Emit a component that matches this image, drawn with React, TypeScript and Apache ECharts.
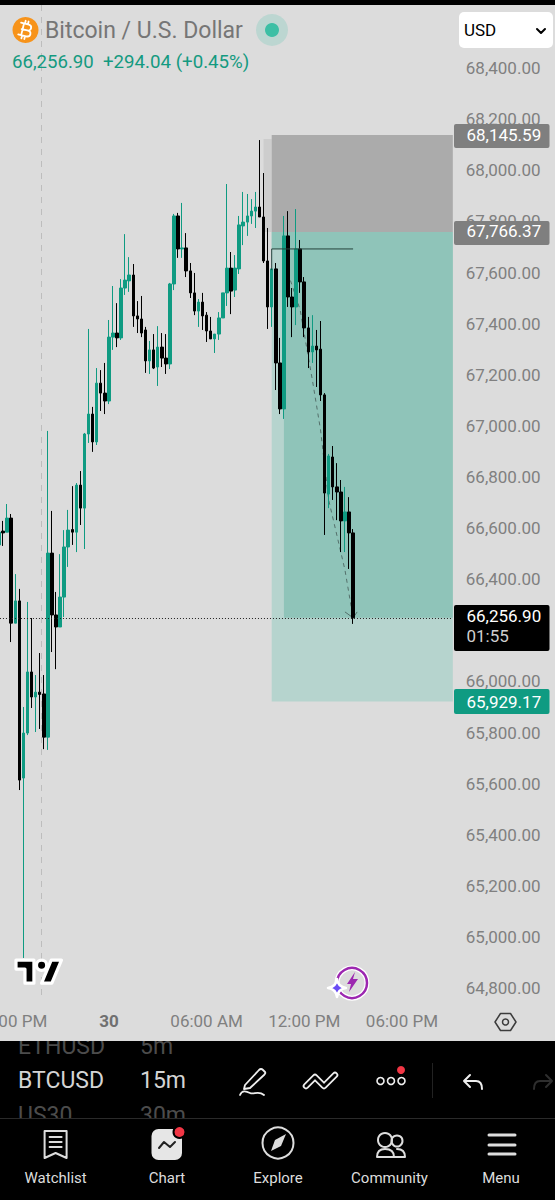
import React, { useEffect, useRef } from "react";
import * as echarts from "echarts";

const SLOT_COUNT = 112;
const tickIndices = [3, 27, 51, 75, 99];
const tickLabels = ["06:00 PM", "30", "06:00 AM", "12:00 PM", "06:00 PM"];

const opens = [66542,66596,66592,66647,66236,66323,65630,65806,66045,65947,65966,65959,65790,66510,66268,66221,66338,66534,66602,66592,66776,66686,66976,67054,66945,67175,67136,67105,67355,67371,67352,67547,67575,67598,67438,67426,67383,67262,67305,67238,67316,67273,67250,67563,67829,67700,67704,67614,67528,67457,67492,67441,67379,67348,67367,67430,67528,67625,67539,67622,67790,67805,67829,67848,67864,67825,67653,67473,67622,67254,67074,67751,67512,67473,67700,67571,67391,67297,67320,67308,67129,66741,66886,66769,66749,66636,66671,66589];
const closes = [66592,66589,66647,66236,66323,65622,65806,66045,65947,65966,65957,65790,66510,66268,66221,66338,66534,66600,66592,66776,66686,66976,67054,66945,67175,67136,67105,67355,67371,67352,67547,67578,67598,67438,67426,67371,67262,67305,67234,67316,67273,67250,67563,67829,67700,67704,67614,67528,67457,67492,67438,67379,67348,67367,67430,67528,67625,67535,67625,67794,67805,67829,67848,67864,67825,67653,67473,67622,67254,67074,67751,67512,67473,67700,67571,67391,67297,67320,67305,67129,66745,66890,66769,66749,66636,66671,66589,66256.9];
const lows = [66495,66538,66592,66162,66236,65583,64926,65798,65904,65810,65822,65743,65740,66123,66056,66221,66260,66456,66542,66514,66620,66526,66941,66906,66933,67066,67054,67093,67305,67316,67344,67520,67532,67395,67371,67355,67215,67211,67230,67164,67238,67211,67230,67539,67665,67665,67590,67508,67441,67395,67383,67336,67348,67293,67344,67430,67477,67445,67512,67602,67715,67751,67798,67782,67825,67645,67387,67395,67148,67054,67035,67473,67355,67402,67528,67355,67234,67254,67160,67105,66581,66686,66718,66639,66514,66514,66448,66233];
const highs = [66600,66636,66702,66663,66428,66370,65908,66319,66256,66033,66119,66033,66988,66675,66358,66506,66600,66679,66772,66784,66831,66980,67387,67082,67234,67226,67254,67422,67555,67488,67582,67758,67668,67641,67496,67516,67395,67340,67367,67398,67371,67367,67567,67837,67841,67880,67762,67645,67606,67504,67528,67453,67434,67367,67453,67528,67954,67688,67676,67829,67923,67915,67895,67923,68126,67997,67782,67622,67645,67352,67829,67848,67547,67856,67735,67590,67434,67441,67383,67418,67136,66898,66929,66862,66796,66769,66729,66604];

const lastPrice = 66256.9;
const stopPrice = 68145.59;
const entryPrice = 67766.37;
const targetPrice = 65929.17;
const entryLinePrice = 67700;
const entryLineFoot = 67617;

const zoneStarts = [65, 67, 67, 67, 70];
const zoneEnds = [67, null, null, null, null];
const zoneTops = [68130, stopPrice, entryPrice, entryPrice, entryLinePrice];
const zoneBottoms = [entryPrice, entryPrice, targetPrice, entryLinePrice, lastPrice];
const zoneFills = ["#cdcdcd", "#ababab", "#b6d4ce", "#8fc4b9", "#8fc4b9"];

const projectionIdx = [71, 74, 76, 77, 79, 81, 85, 87];
const projectionVal = [67606, 67461, 67277, 67187, 66992, 66718, 66444, lastPrice];
const arrowIdx = [85, 87, 88];
const arrowVal = [66280, lastPrice, 66280];
const entryIdx = [67, 67, 87];
const entryVal = [entryLineFoot, entryLinePrice, entryLinePrice];

const shapes: Record<string, string> = {
  btcGlyph: "M-4 -6 H2 C6 -6 6 0 2 0 H-4 M2 0 C7 0 7 6 2 6 H-4 M-3 -6 V6 M-6 -6 H-3 M-6 6 H-3 M-2 -9 V-6 M1 -9 V-6 M-2 6 V9 M1 6 V9",
  chev: "M-4 -2 L0 2 L4 -2",
  tvLogo: "M14 22H7V11H0V4h14v18zM28 22h-8l7.5-18h8L28 22zM24 8C24 13.3 16 13.3 16 8C16 2.7 24 2.7 24 8Z",
  bolt: "M3 -10 L-5 2 H-1 L-3 10 L6 -3 H1 Z",
  star: "M0 -9 Q1 -1 9 0 Q1 1 0 9 Q-1 1 -9 0 Q-1 -1 0 -9 Z",
  hex: "M-5 -8.5 H5 L10.5 0 L5 8.5 H-5 L-10.5 0 Z",
  pen: "M-7 5 L7 -10 Q9 -12 11 -10 L13 -8 Q14 -7 12 -5 L-2 8 L-8 9 Z",
  squiggle: "M-12 15 C-10 10 -6 11 -2 13 C2 15 6 10 12 15",
  zig: "M-15 6 L-6 -3 L3 6 L14 -5",
  undo: "M-9 -1 L-3 -7 M-9 -1 L-3 5 M-9 -1 H3 Q9 -1 9 7",
  redo: "M9 -1 L3 -7 M9 -1 L3 5 M9 -1 H-3 Q-9 -1 -9 7",
  watch: "M-11 -13 H11 V14 L0 9 L-11 14 Z M-6 -7 H6 M-6 -2 H6 M-6 3 H6",
  spark: "M-8 3 L-3 -3 L3 2 L8 -3",
  needle: "M8 -9 L3 3 L-7 8 L-3 -3 Z",
  people: "M-12 14 Q-12 6 -4 6 Q5 6 5 14 Z M8 6 Q16 6 16 14 H5",
  menu: "M-13 -9 H13 M-13 1 H13 M-13 10 H13",
};
Object.keys(shapes).forEach((k) => {
  echarts.graphic.registerShape(k, echarts.graphic.extendPath(shapes[k], {}) as any);
});

const FONT = "Roboto";
const Z = 100;
const txt = (text: string, x: number, y: number, size: number, fill: string, align = "left", weight = "normal") => ({
  type: "text", x, y, z: Z, silent: true,
  style: { text, fill, font: `${weight} ${size}px ${FONT}`, align, verticalAlign: "middle" },
});
const rect = (x: number, y: number, w: number, h: number, fill: string, r = 0) => ({
  type: "rect", z: Z, silent: true, shape: { x, y, width: w, height: h, r }, style: { fill },
});
const ico = (type: string, x: number, y: number, stroke: string | null, lineWidth = 2, fill = "none", extra: any = {}) => ({
  type, x, y, z: Z, silent: true, ...extra,
  style: { stroke: stroke ?? "none", lineWidth, fill, lineJoin: "round", lineCap: "round" },
});
const ring = (x: number, y: number, r: number, stroke: string, lineWidth: number, fill = "none") => ({
  type: "circle", z: Z, silent: true, shape: { cx: x, cy: y, r }, style: { stroke, lineWidth, fill },
});
const dot = (x: number, y: number, r: number, fill: string) => ({
  type: "circle", z: Z, silent: true, shape: { cx: x, cy: y, r }, style: { fill },
});
const NAV = "#dddddd";

const overlay: any[] = [
  { type: "line", z: 0, silent: true, shape: { x1: 41.5, y1: 5, x2: 41.5, y2: 998 }, style: { stroke: "#bdbdbd", lineWidth: 1, lineDash: [6, 6] } },
  rect(0, 0, 555, 5, "#000000"),
  dot(25.5, 30, 13, "#f7931a"),
  ico("btcGlyph", 25.5, 30, "#ffffff", 1.8, "none", { rotation: -0.24 }),
  txt("Bitcoin / U.S. Dollar", 45, 30, 23, "#767676"),
  dot(272, 30, 16, "#bcd6d1"),
  dot(272, 30, 7, "#3dbfa5"),
  txt("66,256.90", 12, 62, 18.6, "#149a80"),
  txt("+294.04 (+0.45%)", 103, 62, 18.7, "#149a80"),
  rect(459, 12, 94, 36, "#ffffff", 5),
  txt("USD", 464, 30, 17, "#000000"),
  ico("chev", 541, 31, "#000000", 2),
  rect(454, 124, 95.5, 24, "#7f7f7f", 2),
  txt("68,145.59", 466.5, 134.5, 17, "#ffffff"),
  rect(454, 221, 95.5, 24, "#7f7f7f", 2),
  txt("67,766.37", 466.5, 231, 17, "#ffffff"),
  rect(454, 605, 95.5, 46, "#000000", 2),
  txt("66,256.90", 466.5, 616, 17, "#ffffff"),
  txt("01:55", 466.5, 636, 17, "#cfcfcf"),
  rect(454, 689, 95.5, 25, "#0f9b82", 2),
  txt("65,929.17", 466.5, 701.5, 17, "#ffffff"),
  ico("tvLogo", 16, 955, "#ffffff", 2.5, "#000000", { scaleX: 1.28, scaleY: 1.28 }),
  ring(352, 983, 15, "#ffffff", 5),
  ring(352, 983, 15, "#9c27b0", 2.5),
  ico("bolt", 352, 982, null, 0, "#9c27b0"),
  ico("star", 337, 988, "#ffffff", 2.5, "#6a4cf5"),
  ico("hex", 505.5, 1022, "#3c3c3c", 1.5),
  ring(505.5, 1022, 3, "#3c3c3c", 1.5),
  rect(0, 1041, 555, 159, "#000000"),
  txt("ETHUSD", 18, 1046, 23, "#4c4c4c"),
  txt("5m", 140, 1046, 23, "#4c4c4c"),
  rect(0, 1032, 555, 9, "#dcdcdc"),
  txt("BTCUSD", 18, 1080, 23, "#d4d4d4"),
  txt("15m", 140, 1080, 23, "#d4d4d4"),
  txt("US30", 18, 1115, 23, "#4c4c4c"),
  txt("30m", 140, 1115, 23, "#4c4c4c"),
  rect(0, 1119, 555, 81, "#000000"),
  rect(0, 1118, 555, 1, "#2a2a2a"),
  ico("pen", 252, 1080, "#eeeeee", 1.8),
  ico("squiggle", 252, 1080, "#eeeeee", 1.8),
  ico("zig", 321, 1080, "#eeeeee", 6.5),
  ico("zig", 321, 1080, "#000000", 3),
  ring(380.5, 1081, 3.5, "#eeeeee", 1.6),
  ring(391, 1081, 3.5, "#eeeeee", 1.6),
  ring(401.5, 1081, 3.5, "#eeeeee", 1.6),
  dot(401, 1070, 4, "#f23645"),
  rect(432, 1063, 1, 35, "#222222"),
  ico("undo", 473, 1082, "#eeeeee", 2),
  ico("redo", 543, 1082, "#2e2e2e", 2),
  ico("watch", 55.6, 1144, NAV, 2),
  rect(151.5, 1129, 30.5, 31, "#e6e6e6", 7),
  ico("spark", 167, 1145, "#222222", 2),
  ring(179.5, 1132, 6, "#000000", 2, "#f23645"),
  ring(278, 1143, 15.5, NAV, 2),
  ico("needle", 278, 1143, null, 0, NAV),
  ring(385, 1140, 7, NAV, 2),
  ring(397, 1141, 5.5, NAV, 2),
  ico("people", 389, 1143, NAV, 2),
  ico("menu", 502, 1144, NAV, 3),
  txt("Watchlist", 55.6, 1178, 15, NAV, "center"),
  txt("Chart", 167, 1178, 15, NAV, "center"),
  txt("Explore", 278, 1178, 15, NAV, "center"),
  txt("Community", 389.5, 1178, 15, NAV, "center"),
  txt("Menu", 501, 1178, 15, NAV, "center"),
];

export default function App() {
  const ref = useRef<HTMLDivElement>(null);
  useEffect(() => {
    const chart = echarts.init(ref.current!, undefined, { renderer: "svg" });
    const categories = Array.from({ length: SLOT_COUNT }, (_, i) => {
      const at = tickIndices.indexOf(i);
      return at >= 0 ? tickLabels[at] : "";
    });
    const candleData = opens.map((o, i) => [o, closes[i], lows[i], highs[i]]);
    chart.setOption({
      animation: false,
      backgroundColor: "#dcdcdc",
      textStyle: { fontFamily: FONT },
      grid: { left: -3.035, top: 18.9, width: 455.84, height: 1022.4, containLabel: false, outerBoundsMode: "none" },
      xAxis: {
        type: "category",
        data: categories,
        axisLine: { show: false },
        axisTick: { show: false },
        splitLine: { show: false },
        axisLabel: {
          inside: true,
          margin: 12,
          color: "#808080",
          fontFamily: FONT,
          fontSize: 17,
          interval: (i: number) => tickIndices.includes(i),
          formatter: (v: string) => (v === "30" ? "{b|30}" : v),
          rich: { b: { fontFamily: FONT, fontSize: 17, fontWeight: "bold", color: "#707070" } },
        },
      },
      yAxis: {
        type: "value",
        position: "right",
        min: 64600,
        max: 68600,
        interval: 200,
        axisLine: { show: false },
        axisTick: { show: false },
        splitLine: { show: false },
        axisLabel: {
          margin: 13,
          color: "#808080",
          fontFamily: FONT,
          fontSize: 17,
          verticalAlign: "bottom",
          lineHeight: 4,
          formatter: (v: number) =>
            v <= 64600 || v >= 68600 ? "" : v.toLocaleString("en-US", { minimumFractionDigits: 2, maximumFractionDigits: 2 }),
        },
      },
      graphic: { elements: overlay },
      series: [
        {
          type: "custom",
          z: 0,
          silent: true,
          encode: { x: 0, y: [1, 2] },
          data: zoneStarts.map((s, i) => [s, zoneTops[i], zoneBottoms[i]]),
          renderItem: (params: any, api: any) => {
            const i = params.dataIndex;
            const a = api.coord([api.value(0), api.value(1)]);
            const b = api.coord([api.value(0), api.value(2)]);
            const end = zoneEnds[i];
            const right = end == null ? params.coordSys.x + params.coordSys.width : api.coord([end, api.value(1)])[0];
            return {
              type: "rect",
              shape: { x: a[0], y: a[1], width: right - a[0], height: b[1] - a[1] },
              style: { fill: zoneFills[i] },
            };
          },
        },
        {
          type: "line",
          z: 1,
          silent: true,
          showSymbol: false,
          data: projectionIdx.map((x, i) => [x, projectionVal[i]]),
          lineStyle: { color: "#54706b", width: 1, type: [4, 4] },
        },
        {
          type: "line",
          z: 1,
          silent: true,
          showSymbol: false,
          data: arrowIdx.map((x, i) => [x, arrowVal[i]]),
          lineStyle: { color: "#54706b", width: 1 },
        },
        {
          type: "candlestick",
          z: 2,
          silent: true,
          barWidth: 3,
          data: candleData,
          itemStyle: {
            color: "#0f9b82",
            color0: "#000000",
            borderColor: "#0f9b82",
            borderColor0: "#000000",
            borderWidth: 1,
          },
          markLine: {
            silent: true,
            symbol: "none",
            label: { show: false },
            lineStyle: { color: "#222222", width: 1, type: [1, 2] },
            data: [{ yAxis: lastPrice }],
          },
        },
        {
          type: "line",
          z: 3,
          silent: true,
          showSymbol: false,
          data: entryIdx.map((x, i) => [x, entryVal[i]]),
          lineStyle: { color: "#24423c", width: 1 },
        },
      ],
    });
    return () => chart.dispose();
  }, []);
  return <div ref={ref} style={{ position: "fixed", left: 0, top: 0, width: 555, height: 1200 }} />;
}
